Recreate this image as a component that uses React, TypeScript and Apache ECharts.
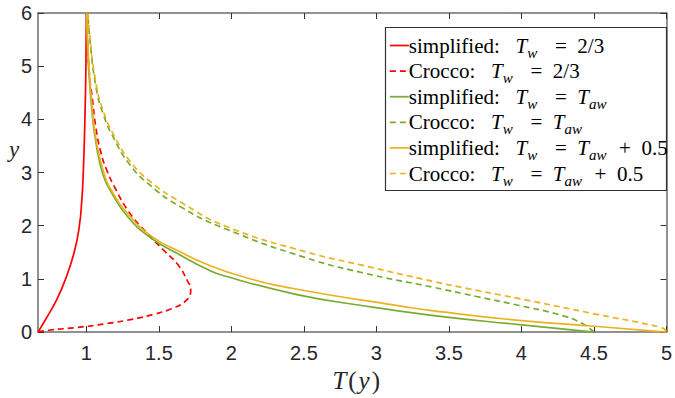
import React, { useEffect, useRef } from 'react';
import * as echarts from 'echarts';

// ---- data (T, y) ----
const X_TICKS = [1, 1.5, 2, 2.5, 3, 3.5, 4, 4.5, 5];
const X_MIN = 2 / 3;
const X_MAX = 5;
const Y_MIN = 0;
const Y_MAX = 6;

const SERIES_NAMES = [
  'simplified: Tw = 2/3',
  'Crocco: Tw = 2/3',
  'simplified: Tw = Taw',
  'Crocco: Tw = Taw',
  'simplified: Tw = Taw + 0.5',
  'Crocco: Tw = Taw + 0.5',
];

const redSimplified: number[][] = [
  [0.667, 0], [0.726, 0.27], [0.794, 0.6], [0.857, 1.0], [0.918, 1.52], [0.952, 2.0],
  [0.968, 2.45], [0.979, 3.0], [0.99, 4.0], [0.997, 5.0], [1.0, 6.0],
];
const redCrocco: number[][] = [
  [0.667, 0], [0.75, 0.04], [0.93, 0.085], [1.14, 0.16], [1.314, 0.24], [1.472, 0.34],
  [1.586, 0.44], [1.687, 0.59], [1.72, 0.8], [1.698, 0.96], [1.631, 1.27], [1.54, 1.52],
  [1.405, 1.9], [1.291, 2.27], [1.2, 2.7], [1.14, 3.05], [1.099, 3.39], [1.065, 3.86],
  [1.042, 4.38], [1.02, 4.88], [1.005, 5.69], [1.0, 6.0],
];
const greenSimplified: number[][] = [
  [4.5, 0], [3.985, 0.14], [3.396, 0.31], [2.898, 0.5], [2.445, 0.71], [1.948, 1.06],
  [1.834, 1.18], [1.653, 1.44], [1.45, 1.76], [1.291, 2.15], [1.178, 2.6], [1.115, 2.96],
  [1.065, 3.58], [1.037, 4.2], [1.015, 5.0], [1.0, 6.0],
];
const greenCrocco: number[][] = [
  [4.5, 0], [4.414, 0.17], [4.256, 0.33], [3.985, 0.5], [3.69, 0.67], [3.396, 0.84],
  [2.898, 1.12], [2.5, 1.41], [1.97, 1.93], [1.653, 2.35], [1.427, 2.79], [1.291, 3.18],
  [1.19, 3.64], [1.12, 4.07], [1.065, 4.63], [1.02, 5.63], [1.01, 6.0],
];
const orangeSimplified: number[][] = [
  [5.0, 0], [4.505, 0.11], [3.985, 0.22], [3.396, 0.4], [3.19, 0.48], [2.445, 0.81],
  [2.08, 1.04], [1.834, 1.27], [1.653, 1.5], [1.45, 1.8], [1.291, 2.21], [1.178, 2.64],
  [1.12, 3.0], [1.068, 3.6], [1.04, 4.22], [1.018, 5.0], [1.002, 6.0],
];
const orangeCrocco: number[][] = [
  [5.0, 0.02], [4.96, 0.09], [4.527, 0.33], [3.985, 0.63], [3.645, 0.81], [3.396, 0.95],
  [2.898, 1.26], [2.513, 1.51], [1.97, 1.98], [1.653, 2.44], [1.427, 2.86], [1.291, 3.25],
  [1.19, 3.7], [1.12, 4.13], [1.065, 4.7], [1.02, 5.68], [1.012, 6.0],
];

const SERIES_DATA = [redSimplified, redCrocco, greenSimplified, greenCrocco, orangeSimplified, orangeCrocco];
const SERIES_COLORS = ['#ff0000', '#ff0000', '#77ac30', '#77ac30', '#edb120', '#edb120'];
const SERIES_DASHED = [false, true, false, true, false, true];

const LEGEND_RICH_TEXT: Record<string, string> = {
  'simplified: Tw = 2/3': '{r|simplified:   }{i|T}{s|w}{r|   =  2/3}',
  'Crocco: Tw = 2/3': '{r|Crocco:   }{i|T}{s|w}{r|   =  2/3}',
  'simplified: Tw = Taw': '{r|simplified:   }{i|T}{s|w}{r|   =  }{i|T}{s|aw}',
  'Crocco: Tw = Taw': '{r|Crocco:   }{i|T}{s|w}{r|   =  }{i|T}{s|aw}',
  'simplified: Tw = Taw + 0.5': '{r|simplified:   }{i|T}{s|w}{r|   =  }{i|T}{s|aw}{r|  +  0.5}',
  'Crocco: Tw = Taw + 0.5': '{r|Crocco:   }{i|T}{s|w}{r|   =  }{i|T}{s|aw}{r|  +  0.5}',
};

const SANS = '"Liberation Sans", Arial, Helvetica, sans-serif';
const SERIF = '"Liberation Serif", "Times New Roman", serif';
const AXIS_LINE = '#6e6e6e';
const TICK = '#333333';
const LABEL = '#262626';

export default function App() {
  const ref = useRef<HTMLDivElement>(null);

  useEffect(() => {
    if (!ref.current) return;
    const chart = echarts.init(ref.current, undefined, { renderer: 'svg' });

    const series = SERIES_NAMES.map((name, i) => ({
      name,
      type: 'line',
      data: SERIES_DATA[i],
      showSymbol: false,
      symbol: 'none',
      smooth: 0.5,
      clip: true,
      lineStyle: {
        color: SERIES_COLORS[i],
        width: 1.7,
        type: SERIES_DASHED[i] ? [6, 4] : 'solid',
      },
      itemStyle: { color: SERIES_COLORS[i] },
      z: 2 + i * 0.01,
    }));

    const richLegend = {
      r: { fontFamily: SERIF, fontSize: 21, color: '#000', lineHeight: 24 },
      i: { fontFamily: SERIF, fontSize: 21, fontStyle: 'italic', color: '#000', lineHeight: 24 },
      s: { fontFamily: SERIF, fontSize: 15, fontStyle: 'italic', color: '#000', lineHeight: 2, padding: [14, 2, 0, 0] },
    };

    const option: any = {
      animation: false,
      backgroundColor: '#ffffff',
      grid: { left: 38, top: 13, width: 638, height: 322, containLabel: false },
      xAxis: [
        {
          type: 'value',
          position: 'bottom',
          min: X_MIN,
          max: X_MAX,
          axisLine: { show: true, onZero: false, lineStyle: { color: AXIS_LINE, width: 1.5 } },
          axisTick: { show: true, inside: true, length: 6, customValues: X_TICKS, lineStyle: { color: TICK, width: 1 } },
          axisLabel: {
            show: true,
            customValues: X_TICKS,
            margin: 11,
            fontFamily: SANS,
            fontSize: 20,
            color: LABEL,
            formatter: (v: number) => String(v),
          },
          splitLine: { show: false },
          name: '{i|T}{r|(}{i|y}{r|)}',
          nameLocation: 'middle',
          nameGap: 29,
          nameTextStyle: {
            padding: [0, 0, 0, 8],
            rich: {
              i: { fontFamily: SERIF, fontSize: 25, fontStyle: 'italic', color: LABEL, padding: [0, 1, 0, 1] },
              r: { fontFamily: SERIF, fontSize: 25, color: LABEL, padding: [0, 1, 0, 1] },
            },
          },
        },
        {
          type: 'value',
          position: 'top',
          min: X_MIN,
          max: X_MAX,
          axisLine: { show: true, onZero: false, lineStyle: { color: AXIS_LINE, width: 1.5 } },
          axisTick: { show: true, inside: true, length: 6, customValues: X_TICKS, lineStyle: { color: TICK, width: 1 } },
          axisLabel: { show: false },
          splitLine: { show: false },
        },
      ],
      yAxis: [
        {
          type: 'value',
          position: 'left',
          min: Y_MIN,
          max: Y_MAX,
          interval: 1,
          axisLine: { show: true, onZero: false, lineStyle: { color: AXIS_LINE, width: 1.5 } },
          axisTick: { show: true, inside: true, length: 6, lineStyle: { color: TICK, width: 1 } },
          axisLabel: { show: true, margin: 6, fontFamily: SANS, fontSize: 20, color: LABEL },
          splitLine: { show: false },
        },
        {
          type: 'value',
          position: 'right',
          min: Y_MIN,
          max: Y_MAX,
          interval: 1,
          axisLine: { show: true, onZero: false, lineStyle: { color: AXIS_LINE, width: 1.5 } },
          axisTick: { show: true, inside: true, length: 6, lineStyle: { color: TICK, width: 1 } },
          axisLabel: { show: false },
          splitLine: { show: false },
        },
      ],
      legend: {
        orient: 'vertical',
        left: 389,
        top: 31,
        padding: 0,
        itemWidth: 19,
        itemHeight: 14,
        itemGap: -3.4,
        align: 'left',
        data: SERIES_NAMES,
        itemStyle: { opacity: 0, borderWidth: 0 },
        lineStyle: { width: 1.7 },
        formatter: (name: string) => LEGEND_RICH_TEXT[name] || name,
        textStyle: { fontFamily: SERIF, fontSize: 21, color: '#000', rich: richLegend, padding: [0, 0, 0, -5] },
        z: 10,
      },
      graphic: [
        {
          type: 'rect',
          z: 5,
          shape: { x: 385.5, y: 27.5, width: 281, height: 163 },
          style: { fill: '#ffffff', stroke: '#333333', lineWidth: 1.2 },
        },
        {
          type: 'text',
          left: 9,
          top: 138,
          z: 5,
          style: { text: 'y', font: `italic 23px ${SERIF}`, fill: LABEL },
        },
      ],
      series,
    };

    chart.setOption(option);
    return () => chart.dispose();
  }, []);

  return (
    <div
      ref={ref}
      style={{ position: 'absolute', left: 0, top: 0, width: 675, height: 398, background: '#fff' }}
    />
  );
}
